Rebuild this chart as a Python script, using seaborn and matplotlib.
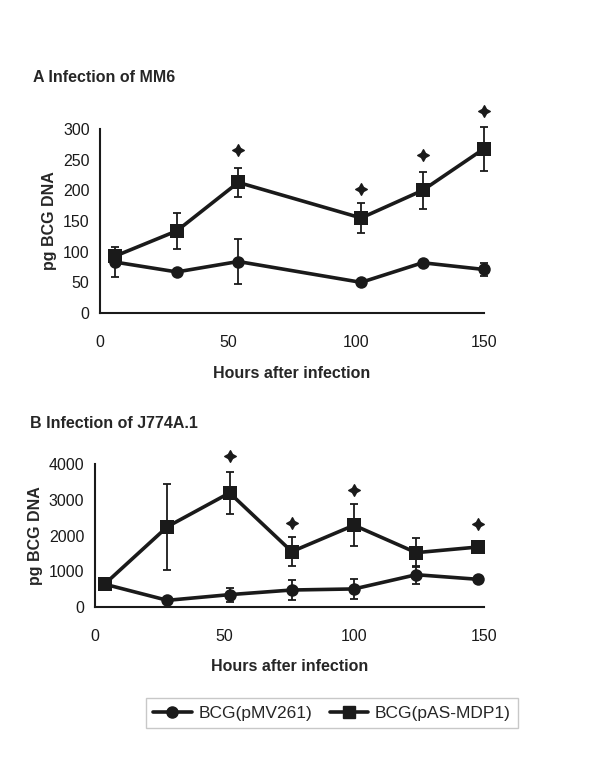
import matplotlib
matplotlib.use("Agg")
import matplotlib.pyplot as plt
import seaborn as sns
import pandas as pd
from matplotlib.lines import Line2D

# Panel A - MM6
a_hours = [6, 30, 54, 102, 126, 150]
a_pmv = [83, 67, 84, 50, 82, 71]
a_pmv_err = [24, 5, 36, 4, 5, 10]
a_mdp = [93, 134, 213, 155, 200, 268]
a_mdp_err = [10, 29, 23, 25, 30, 36]
a_star_x = [54, 102, 126, 150]
a_star_y = [266, 203, 257, 329]

# Panel B - J774A.1
b_hours = [4, 28, 52, 76, 100, 124, 148]
b_pmv = [630, 180, 340, 470, 500, 900, 770]
b_pmv_err = [60, 40, 200, 290, 270, 250, 60]
b_mdp = [650, 2250, 3200, 1550, 2290, 1520, 1680]
b_mdp_err = [60, 1210, 590, 400, 590, 410, 60]
b_star_x = [52, 76, 100, 148]
b_star_y = [4240, 2360, 3280, 2330]

sns.set_style("white")
plt.rcParams['font.family'] = ['Liberation Sans', 'DejaVu Sans']

fig = plt.figure(figsize=(6, 7.57), dpi=100)
ax_a = fig.add_axes([0.1667, 0.5865, 0.64, 0.243])
ax_b = fig.add_axes([0.158, 0.1985, 0.648, 0.188])


def draw_panel(ax, hours, pmv, pmv_err, mdp, mdp_err, sx, sy, ymax, ystep):
    df = pd.DataFrame({"hours": hours, "pmv": pmv, "mdp": mdp})
    ax.errorbar(hours, pmv, yerr=pmv_err, fmt="none", ecolor="#1a1a1a",
                elinewidth=1.3, capsize=3, capthick=1.3, clip_on=False, zorder=2)
    ax.errorbar(hours, mdp, yerr=mdp_err, fmt="none", ecolor="#1a1a1a",
                elinewidth=1.3, capsize=3, capthick=1.3, clip_on=False, zorder=2)
    sns.lineplot(data=df, x="hours", y="pmv", ax=ax, color="#1a1a1a", lw=2.6,
                 marker="o", markersize=9, markeredgewidth=0, clip_on=False, zorder=3)
    sns.lineplot(data=df, x="hours", y="mdp", ax=ax, color="#1a1a1a", lw=2.6,
                 marker="s", markersize=10, markeredgewidth=0, clip_on=False, zorder=3)
    ax.scatter(sx, sy, marker=(4, 1, 0), s=70, color="#1a1a1a", clip_on=False, zorder=4)
    ax.set_xlim(0, 150)
    ax.set_ylim(0, ymax)
    ax.set_xticks([0, 50, 100, 150])
    ax.set_yticks(range(0, ymax + 1, ystep))
    for s in ["top", "right"]:
        ax.spines[s].set_visible(False)
    for s in ["left", "bottom"]:
        ax.spines[s].set_linewidth(1.5)
        ax.spines[s].set_color("#1a1a1a")
    ax.tick_params(axis="both", direction="out", length=4, width=1.5,
                   labelsize=11.5, color="#1a1a1a", labelcolor="#1a1a1a")
    ax.tick_params(axis="x", length=5, pad=11)
    ax.set_xlabel("Hours after infection", fontsize=11.5, fontweight="bold", labelpad=11)
    ax.set_ylabel("pg BCG DNA", fontsize=11.5, fontweight="bold", labelpad=4)


draw_panel(ax_a, a_hours, a_pmv, a_pmv_err, a_mdp, a_mdp_err, a_star_x, a_star_y, 300, 50)
draw_panel(ax_b, b_hours, b_pmv, b_pmv_err, b_mdp, b_mdp_err, b_star_x, b_star_y, 4000, 1000)

fig.text(0.055, 1 - 78 / 757, "A Infection of MM6", fontsize=11.5, fontweight="bold",
         va="center", ha="left")
fig.text(0.05, 1 - 423 / 757, "B Infection of J774A.1", fontsize=11.5, fontweight="bold",
         va="center", ha="left")

handles = [Line2D([], [], color="#1a1a1a", lw=2.6, marker="o", markersize=8),
           Line2D([], [], color="#1a1a1a", lw=2.6, marker="s", markersize=9)]
leg = fig.legend(handles, ["BCG(pMV261)", "BCG(pAS-MDP1)"], ncol=2,
                 loc="center", bbox_to_anchor=(332 / 600, 1 - 713 / 757),
                 fontsize=12.5, frameon=True, fancybox=False, handlelength=2.2,
                 handletextpad=0.4, columnspacing=1.0, borderpad=0.4)
leg.get_frame().set_edgecolor("#bbbbbb")
leg.get_frame().set_linewidth(1.0)

fig.savefig("out.png", dpi=100)
